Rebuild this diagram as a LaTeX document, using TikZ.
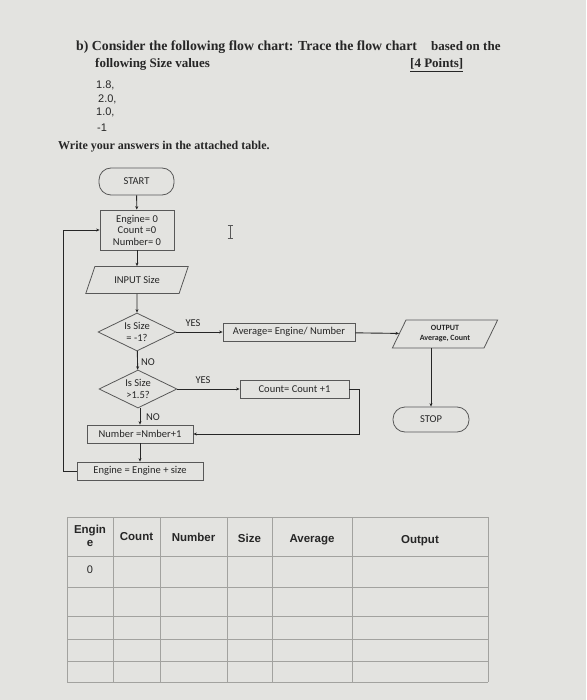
\documentclass[tikz,border=0pt]{standalone}
\usepackage{fontspec}
\setmainfont{Liberation Serif}
\newfontfamily\flowfont{Carlito}
\newfontfamily\tabfont{Liberation Sans}
\usetikzlibrary{arrows.meta,positioning,shapes.geometric}
\definecolor{paper}{HTML}{E3E3E0}
\definecolor{ink}{HTML}{262626}
\definecolor{edge}{HTML}{585858}
\definecolor{grid}{HTML}{A2A29F}
\newcommand{\flowsize}{\flowfont\fontsize{10.5}{12.5}\selectfont}

\begin{document}
\begin{tikzpicture}[x=1pt,y=-1pt,
 every node/.style={text=ink},
 term/.style={draw=edge,line width=.8pt,rounded corners=12pt,minimum width=75pt,
 minimum height=27pt,inner sep=0pt,font=\flowsize},
 proc/.style={draw=edge,line width=.8pt,minimum height=18pt,inner sep=1pt,
 align=center,font=\flowsize},
 io/.style={trapezium,trapezium stretches=true,draw=edge,line width=.8pt,
 inner sep=0pt,align=center},
 dec/.style={diamond,aspect=2,draw=edge,line width=.8pt,minimum width=78pt,
 minimum height=38pt,inner sep=0pt,align=center,font=\flowsize},
 lbl/.style={font=\flowsize,inner sep=0pt},
 arr/.style={-{Stealth[length=3.5pt,width=3pt]},line width=.9pt,draw=ink},
 tabline/.style={draw=grid,line width=.6pt},
 head/.style={font=\tabfont\bfseries\fontsize{11.5}{13}\selectfont,align=center,inner sep=0pt},
 txt/.style={anchor=base west,inner sep=0pt,font=\bfseries\fontsize{13}{15}\selectfont},
 val/.style={anchor=base west,inner sep=0pt,font=\tabfont\fontsize{11}{13}\selectfont}]
\useasboundingbox[fill=paper] (0,0) rectangle (586,700);

% question text
\node[txt,font=\bfseries\fontsize{13.8}{15}\selectfont] (q1) at (76,51)
 {b) Consider the following flow chart: Trace the flow chart};
\node[txt] (q1b) at (431,51) {based on the};
\node[txt] (q2) at (95,68) {following Size values};
\node[txt] (pts) at (410,68) {\underline{[4 Points]}};
\node[val] (v1) at (96,89) {1.8,};
\node[val] (v2) at (98,103) {2.0,};
\node[val] (v3) at (96,116) {1.0,};
\node[val] (v4) at (97,132) {-1};
\node[txt,font=\bfseries\fontsize{12}{14}\selectfont] (q3) at (58,150)
 {Write your answers in the attached table.};

% flow chart
\node[term] (start) at (136.5,181.5) {START};
\node[proc,minimum width=74pt,minimum height=40pt] (init) at (137,230)
 {Engine= 0\\[-1pt]Count =0\\[-1pt]Number= 0};
\node[io,trapezium left angle=56,trapezium right angle=124,minimum width=103pt,
 minimum height=27pt,font=\flowsize] (inp) at (137,280) {INPUT Size};
\node[dec] (d1) at (137,332) {Is Size\\= -1?};
\node[dec] (d2) at (138,389) {Is Size\\>1.5?};
\node[proc,minimum width=132pt] (avg) at (289,332) {Average= Engine/ Number};
\node[proc,minimum width=109pt] (cnt) at (294.5,389) {Count= Count +1};
\node[io,trapezium left angle=62,trapezium right angle=118,minimum width=106pt,
 minimum height=28pt,font=\flowfont\bfseries\fontsize{8}{10}\selectfont] (out) at (445,334)
 {OUTPUT\\Average, Count};
\node[term,minimum width=76pt,minimum height=25pt] (stop) at (431,419.5) {STOP};
\node[proc,minimum width=106pt] (num) at (140,434) {Number =Nmber+1};
\node[proc,minimum width=126pt] (eng) at (140,471) {Engine = Engine + size};

\node[lbl] (yes1) at (193,323) {YES};
\node[lbl] (no1) at (148,362) {NO};
\node[lbl] (yes2) at (203,380) {YES};
\node[lbl] (no2) at (153,417) {NO};

\draw[arr] (start) -- (init);
\draw[arr] (init) -- (inp);
\draw[arr] (inp) -- (d1);
\draw[arr] (d1) -- (d2);
\draw[arr] (d1) -- (avg);
\draw[arr] (avg) -- (out);
\draw[arr] (stop.north |- out.south) -- (stop.north);
\draw[arr] (d2) -- (cnt);
\draw[arr] (cnt.east) -- ++(10,0) |- (num.east);
\draw[arr] (d2.south -| num.north) -- (num.north);
\draw[arr] (num) -- (eng);
\draw[arr] (eng.west) -- ++(-13,0) |- (init.west);

% text cursor
\draw[edge,line width=.7pt] (230,226) -- (230,238)
 (227.5,225.5) -- (232.5,225.5) (227.5,238.5) -- (232.5,238.5);

% answer table
\foreach \x in {67,113,160,227,272,352,488} \draw[tabline] (\x,517) -- (\x,682);
\foreach \y in {517,556,587,616,639,661,682} \draw[tabline] (67,\y) -- (488,\y);
\node[head] (hEng) at (90,536) {Engin\\e};
\node[head] (hCnt) at (136.5,537) {Count};
\node[head] (hNum) at (193.5,537) {Number};
\node[head] (hSize) at (249.5,538) {Size};
\node[head] (hAvg) at (312,540) {Average};
\node[head] (hOut) at (420,541) {Output};
\node[font=\tabfont\fontsize{11}{13}\selectfont,inner sep=0pt] (e0) at (90,570) {0};
\end{tikzpicture}
\end{document}
